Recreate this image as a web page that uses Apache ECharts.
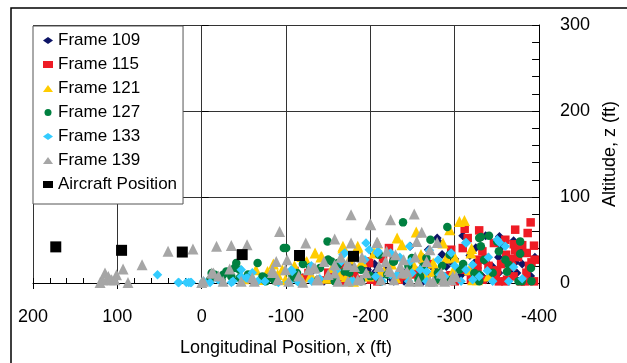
<!DOCTYPE html>
<html><head><meta charset="utf-8">
<script src="https://cdn.jsdelivr.net/npm/echarts@6/dist/echarts.min.js"></script>
<style>html,body{margin:0;padding:0;background:#fff}#c{width:627px;height:363px}</style>
</head><body><div id="c"></div>
<script>
const seriesNames = ['Frame 109','Frame 115','Frame 121','Frame 127','Frame 133','Frame 139','Aircraft Position'];
const xTicks = [200,100,0,-100,-200,-300,-400];
const yTicks = [0,100,200,300];

const frame109 = [[-309.5,55],[-353,54.2],[-369.8,49.2],[-380.3,37.6],[-279.2,52.3],[-268.7,38.7],[-313.4,46.5],[-321.2,7.7],[-352.3,11.6],[-332.9,7.7],[-344.6,3.8],[-388,15.5],[-301.7,3.8],[-247.3,19.3],[-231.7,29],[-212.3,7.7],[-188.9,3.8],[-356.2,42.6],[-259,27.1],[-290,19.3],[-327,17.4],[-196.6,15.4],[-168.6,3.8],[-157.7,9.6],[-130.5,13.5],[-285,33],[-300,28],[-240,12],[-262,5],[-335,26],[-372,24],[-395,30],[-318,32],[-362,3],[-226,4],[-205,22],[-178,18],[-145,2],[-120,6],[-275,17],
  [-336.7,55],[-282.3,46.5],[-323.2,23.2],[-373.7,11.6],[-344.6,19.3],[-336.7,3.8],[-206.4,13.5],[-188.9,17.4],[-204.5,3.8],[-251.1,15.5],[-305.6,7.7],[-247.3,42.6],[-227.8,1.9],[-262.8,1.9],[-380,22],[-365,14],[-310,12],[-296,24],[-219,16],[-240,2],[-352,30],[-390,8],[-285,9],[-325,41]];
const frame115 = [[-311.8,63.1],[-329,61.2],[-390,70.5],[-371.7,62],[-386.5,58.1],[-394,43.4],[-371.7,37.9],[-361,32.9],[-366.7,27.9],[-395,27.1],[-391,24],[-350.3,14.7],[-348.4,7.7],[-352.3,1.9],[-378.3,1.9],[-394,1.9],[-329,27.1],[-332.8,36.8],[-336.7,29],[-327,18.5],[-309.5,40.6],[-222,40.6],[-196.7,25.1],[-362,3.8],[-369.8,7.7],[-317.3,13.5],[-200.6,3.8],[-233.6,3.8],[-282.3,3.8],[-309.5,15.4],[-346.5,46.5],[-198.5,23.2],[-122.7,5.8],[-186.9,3.8],[-181,9.6],[-150,12],[-165,20],[-250,10],[-268,22],[-295,9],[-340,20],[-385,12],[-380,44],[-110,14],[-215,28],
  [-385.4,34.9],[-367.9,19.3],[-348.4,13.5],[-360,1.9],[-383.4,1.9],[-315.4,52.3],[-319.2,3.8],[-332.9,3.8],[-208.3,1.9],[-231.7,3.8],[-243.4,7.7],[-266.7,7.7],[-292,7.7],[-126.6,11.6],[-165.6,1.9],[-171.4,9.6],[-227.8,29],[-295.8,38.7],[-360,50.3],[-375,30],[-388,20],[-355,22],[-300,2],[-257,14],[-140,3],[-370,45]];
const frame121 = [[-305.6,71.6],[-311.5,72.8],[-294,62],[-254.4,59.3],[-231.7,52.3],[-237.5,44.5],[-286.1,46.5],[-167.5,42.6],[-185,42.6],[-208.3,46.5],[-148,5.8],[-171.4,7.7],[-216.2,13.5],[-274.5,23.2],[-297.8,13.5],[-327,3.8],[-134.4,34.9],[-142.2,30.9],[-243.4,11.6],[-204.4,34.9],[-317.3,15.5],[-141.3,30.1],[-167.4,40.6],[-184.9,40.6],[-124.6,25.1],[-99.3,3.8],[-78,13.5],[-64.3,15.4],[-149.9,5.8],[-130.5,7.7],[-118.8,3.8],[-260,33],[-225,22],[-190,25],[-300,30],[-280,5],[-320,40],[-110,20],[-90,10],[-50,5],
  [-251.1,21.3],[-262.8,29],[-290,29],[-319.2,34.9],[-163.6,9.6],[-212.3,13.5],[-274.5,13.5],[-297.8,9.6],[-321.2,3.8],[-95.5,15.5],[-118.9,30.9],[-128.6,7.7],[-155,18],[-175,28],[-198,8],[-230,6],[-265,10],[-310,20],[-340,8],[-180,2],[-85,22],[-70,4]];
const frame127 = [[-238.7,70.5],[-291.2,65.1],[-149.2,48.4],[-271.2,50.3],[-340.7,55],[-377.6,48.4],[-331,53.5],[-331,42.6],[-352.3,36.8],[-377.6,34],[-390.4,17.4],[-334.9,27.1],[-266.4,29],[-262.8,17.4],[-227.9,25.1],[-235.6,11.6],[-259,5.8],[-161.6,23.2],[-150,27.1],[-130.6,17.4],[-169.5,13.5],[-188.9,15.5],[-294,32.9],[-329,9.6],[-375.7,1.9],[-360,27.1],[-210.3,32.9],[-100.1,40.6],[-149.9,27.1],[-140.2,17.4],[-128.5,18.5],[-113,11.6],[-66.3,23.2],[-41,23.2],[-39,17.4],[-44.9,15.4],[-29.3,13.5],[-25.4,9.6],[-35.1,7.7],[-23.5,3.8],[-11.8,11.6],[-11.8,5.8],[-72.1,7.7],[-78,5.8],[-74,3.8],[-85.7,3.8],[-109,5.8],[-114.9,1.9],[-44.9,5.8],[-97.4,40.7],[-15.7,9.6],[-200,8],[-245,20],[-310,22],[-345,12],[-280,12],
  [-350.4,48.4],[-329,52.3],[-249.2,29],[-262.8,19.3],[-227,25.1],[-257,3.8],[-153.9,25.1],[-161.6,21.3],[-9.9,3.8],[-76.1,1.9],[-87.7,1.9],[-107.2,7.7],[-138.3,3.8],[-157.8,1.9],[-188.9,1.9],[-212.3,1.9],[-259,7.7],[-278.4,3.8],[-295.8,3.8],[-323.2,11.6],[-329,1.9],[-379.5,1.9],[-391,1.9],[-305.6,15.5],[-364,21.3],[-362,13],[-285,20],[-220,10],[-175,12],[-120,22],[-55,10]];
const frame133 = [[52.4,9.6],[27.1,0.7],[18.2,0.7],[13.5,0.7],[27.8,0.7],[15.4,0.7],[12.3,0.7],[-46.9,15.5],[-46.9,7.7],[-54.7,5.8],[-35.2,0.7],[-9.9,0.7],[-19.6,3.8],[-90.9,0.7],[-106.4,15.5],[-103.3,0.7],[-115,0.7],[-194.8,46.5],[-209.1,36.8],[-193.6,27.1],[-247.3,25.1],[-280.3,27.1],[-313.4,47.2],[-353,47.2],[-369.8,18.6],[-338.7,14.3],[-313.4,15.5],[-249.3,11.6],[-214.2,1.9],[-245.3,1.9],[-288.1,7.7],[-321.2,3.8],[-364,1.9],[-360,42.6],[-169.5,34.9],[-224,34.9],[-259,15.5],[-224,9.6],[-140,5],[-160,15],[-180,2],[-130,20],[-300,20],[-270,38],[-235,30],[-75,2],[-60,12],
  [-198.6,38.7],[-208.3,34.9],[-246.5,42.6],[-295.8,34.9],[-313.4,46.5],[-350.4,50.3],[-321.2,21.3],[-329,7.7],[-266.7,13.5],[-282.3,9.6],[-231.7,9.6],[-206.4,7.7],[-165.6,25.1],[-167.5,32.9],[-107.2,13.5],[-52.7,5.8],[-2.2,1.9],[-37.2,1.9],[-66.4,1.9],[-130.6,1.9],[-177.3,1.9],[-266.7,1.9],[-307.5,1.9],[-345,1.9],[-380,5],[-340,30]];
const frame139 = [[114.6,11.6],[110.7,7.7],[101,9.6],[117.7,3.8],[106.8,3.8],[93.2,16.2],[87.4,0.7],[70.7,21.3],[39.9,36.8],[10.4,39.5],[0,0.7],[108.8,3.8],[103,3.8],[120.5,0.7],[-17.6,42.6],[-35.1,43.7],[-53.8,44.5],[-92.3,60],[-88.4,25.1],[-123.4,46.5],[-157.7,51.1],[-177.1,79.4],[-200.5,67.8],[-177.1,46.5],[-33.2,16.2],[-11.8,11.6],[-2.1,1.9],[-25.4,1.9],[-46.8,1.9],[-62.4,1.9],[-99.3,15.4],[-101.3,27.1],[-126.6,15.4],[-134.4,17.4],[-157.7,21.3],[-173.2,21.3],[-138.2,3.8],[-161.6,1.9],[-188.8,3.8],[-103.2,1.9],[-83.8,15.4],[-199.8,68.5],[-223.9,73.6],[-252,80.2],[-208.4,47.2],[-260.9,58.9],[-255,48.4],[-279.2,47.2],[-270.6,38.7],[-210.3,19.3],[-222,15.5],[-239.5,27.1],[-229.8,32.9],[-253.1,30.2],[-237.5,11.6],[-212.3,3.8],[-257,1.9],[-270.6,1.9],[-286.2,3.8],[-297.8,7.7],[-13.9,11.6],[-145,25],[-190,30],[-115,8],[-150,10],
  [-207.6,47.2],[-219.3,36.8],[-83.9,12.3],[-132.4,17.4],[-136.4,3.8],[-157.8,11.6],[-173.3,23.2],[-181.1,19.3],[-184.9,3.8],[-173.3,1.9],[-210.3,19.3],[-223.9,13.5],[-218.1,25.1],[-235.6,19.3],[-243.4,13.5],[-227.8,3.8],[-247,1.9],[-266.7,25.1],[-274.5,1.9],[-284.2,11.6],[-288.1,1.9],[-295.8,3.8],[-301.7,7.7],[-20,8],[-60,6],[-90,4],[-195,12],[-165,30],[-120,1]];
const aircraft = [[173,42],[95,38],[23,36],[-48,33],[-116,32],[-180,31]];

const dataSets = [frame109, frame115, frame121, frame127, frame133, frame139, aircraft];
const symbols = ['diamond','rect','triangle','circle','diamond','triangle','rect'];
const sizes = [9,8.5,11,8.5,9.5,11,11];
const colors = ['#0d1466','#ee1c25','#ffcc00','#008040','#33ccff','#a6a6a6','#000000'];

const font = 'Liberation Sans, Arial, sans-serif';
const chart = echarts.init(document.getElementById('c'), null, {renderer:'canvas'});
chart.setOption({
  animation:false,
  backgroundColor:'#fff',
  graphic:[{type:'rect', z:100, silent:true, shape:{x:11,y:8,width:700,height:500}, style:{fill:'none', stroke:'#000', lineWidth:1.5}}],
  grid:{left:33, right:79, top:25, bottom:80},
  legend:{
    orient:'vertical', left:33, top:26, data:seriesNames,
    itemWidth:10, itemHeight:7, itemGap:7,
    padding:[6,6,11,10],
    backgroundColor:'#fff', borderColor:'#555', borderWidth:1,
    textStyle:{fontFamily:font, fontSize:17, color:'#000'}
  },
  xAxis:[{
    type:'value', min:-400, max:200, interval:100, inverse:true, position:'bottom',
    name:'Longitudinal Position, x (ft)', nameLocation:'middle', nameGap:56,
    nameTextStyle:{fontFamily:font, fontSize:18, color:'#000'},
    axisLine:{show:true, onZero:false, lineStyle:{color:'#000', width:1}},
    axisTick:{show:true, inside:true, length:5, lineStyle:{color:'#000'}},
    minorTick:{show:true, splitNumber:5, length:5, lineStyle:{color:'#000'}},
    axisLabel:{fontFamily:font, fontSize:18, color:'#000', margin:25,
      formatter:function(v){return xTicks.indexOf(v)>=0 ? String(v) : '';}},
    splitLine:{show:true, lineStyle:{color:'#333', width:1}}
  },{
    type:'value', min:-400, max:200, interval:100, inverse:true, position:'bottom', gridIndex:0,
    axisLine:{show:false}, axisLabel:{show:false}, splitLine:{show:false},
    axisTick:{show:true, inside:false, length:6, lineStyle:{color:'#000'}}
  }],
  yAxis:[{
    type:'value', min:0, max:300, interval:100, position:'right',
    name:'Altitude, z (ft)', nameLocation:'middle', nameGap:52, nameRotate:90,
    nameTextStyle:{fontFamily:font, fontSize:18, color:'#000'},
    axisLine:{show:true, onZero:false, lineStyle:{color:'#000', width:1}},
    axisTick:{show:true, inside:true, length:7, lineStyle:{color:'#000'}},
    minorTick:{show:true, splitNumber:5, length:7, lineStyle:{color:'#000'}},
    axisLabel:{fontFamily:font, fontSize:18, color:'#000', margin:21,
      formatter:function(v){return yTicks.indexOf(v)>=0 ? String(v) : '';}},
    splitLine:{show:true, lineStyle:{color:'#333', width:1}}
  },{
    type:'value', min:0, max:300, interval:100, position:'right',
    axisLine:{show:false}, axisLabel:{show:false}, splitLine:{show:false},
    axisTick:{show:true, inside:false, length:7, lineStyle:{color:'#000'}}
  }],
  series: seriesNames.map(function(n,i){
    return {name:n, type:'scatter', data:dataSets[i], symbol:symbols[i], symbolSize:sizes[i],
      itemStyle:{color:colors[i], opacity:1}, z:2+i, xAxisIndex:0, yAxisIndex:0};
  })
});
</script></body></html>
